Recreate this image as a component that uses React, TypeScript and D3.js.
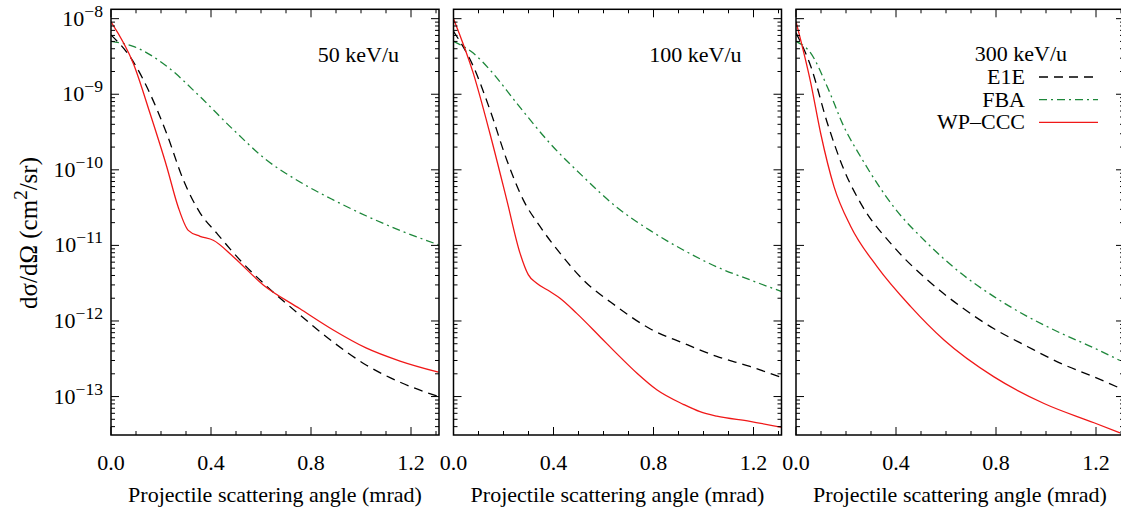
import React from 'react';
import * as d3 from 'd3';

// ---------- data ----------
const PANEL_LABELS = ['50 keV/u', '100 keV/u', '300 keV/u'];
const SERIES_NAMES = ['E1E', 'FBA', 'WP\u2013CCC'];
const X_TICKS = [0, 0.4, 0.8, 1.2];
const X_TICK_LABELS = ['0.0', '0.4', '0.8', '1.2'];
const Y_DECADES = [-8, -9, -10, -11, -12, -13];

// 50 keV/u
const e1e50X = [0, 0.089, 0.156, 0.223, 0.289, 0.356, 0.423, 0.529, 0.622, 0.756, 0.889, 1.022, 1.156, 1.31];
const e1e50Y = [6.1e-9, 2.7e-9, 1.02e-9, 3.0e-10, 7.4e-11, 2.7e-11, 1.45e-11, 5.75e-12, 2.9e-12, 1.2e-12, 5.25e-13, 2.6e-13, 1.55e-13, 1.0e-13];
const fba50X = [0, 0.089, 0.223, 0.356, 0.489, 0.622, 0.756, 0.889, 1.022, 1.156, 1.31];
const fba50Y = [5.0e-9, 4.3e-9, 2.35e-9, 9.3e-10, 3.4e-10, 1.35e-10, 6.9e-11, 4.0e-11, 2.45e-11, 1.58e-11, 1.02e-11];
const wp50X = [0, 0.089, 0.156, 0.223, 0.269, 0.309, 0.356, 0.409, 0.489, 0.609, 0.756, 0.889, 1.02, 1.156, 1.31];
const wp50Y = [9.1e-9, 2.57e-9, 5.6e-10, 1.1e-10, 3.2e-11, 1.58e-11, 1.32e-11, 1.17e-11, 7.1e-12, 3.0e-12, 1.45e-12, 7.6e-13, 4.4e-13, 2.95e-13, 2.1e-13];

// 100 keV/u
const e1e100X = [0, 0.079, 0.146, 0.213, 0.279, 0.346, 0.426, 0.519, 0.653, 0.786, 0.919, 1.053, 1.186, 1.313];
const e1e100Y = [6.8e-9, 2.35e-9, 6.2e-10, 1.35e-10, 4.0e-11, 1.78e-11, 7.9e-12, 3.5e-12, 1.55e-12, 7.9e-13, 5.1e-13, 3.4e-13, 2.5e-13, 1.78e-13];
const fba100X = [0, 0.079, 0.146, 0.253, 0.386, 0.519, 0.653, 0.786, 0.919, 1.053, 1.186, 1.313];
const fba100Y = [5.0e-9, 3.5e-9, 2.1e-9, 7.6e-10, 2.24e-10, 8.1e-11, 3.2e-11, 1.58e-11, 8.7e-12, 5.2e-12, 3.5e-12, 2.45e-12];
const wp100X = [0, 0.079, 0.146, 0.213, 0.266, 0.299, 0.333, 0.386, 0.426, 0.493, 0.586, 0.653, 0.733, 0.813, 0.919, 0.986, 1.053, 1.186, 1.313];
const wp100Y = [1.0e-8, 1.9e-9, 3.0e-10, 4.0e-11, 7.9e-12, 4.1e-12, 3.16e-12, 2.45e-12, 2.0e-12, 1.26e-12, 6.2e-13, 3.7e-13, 2.05e-13, 1.23e-13, 7.9e-14, 6.3e-14, 5.5e-14, 4.7e-14, 3.9e-14];

// 300 keV/u
const e1e300X = [0, 0.059, 0.125, 0.192, 0.259, 0.392, 0.525, 0.659, 0.792, 0.925, 1.059, 1.192, 1.296];
const e1e300Y = [6.5e-9, 2.35e-9, 4.2e-10, 1.0e-10, 3.6e-11, 9.5e-12, 3.5e-12, 1.55e-12, 7.9e-13, 4.6e-13, 2.75e-13, 1.82e-13, 1.29e-13];
const fba300X = [0, 0.059, 0.125, 0.192, 0.259, 0.392, 0.525, 0.659, 0.792, 0.925, 1.059, 1.192, 1.296];
const fba300Y = [5.0e-9, 3.5e-9, 1.26e-9, 3.7e-10, 1.48e-10, 3.2e-11, 1.07e-11, 4.3e-12, 2.1e-12, 1.15e-12, 6.9e-13, 4.4e-13, 3.0e-13];
const wp300X = [0, 0.059, 0.099, 0.152, 0.219, 0.325, 0.459, 0.592, 0.792, 0.992, 1.192, 1.296];
const wp300Y = [9.1e-9, 1.41e-9, 3.0e-10, 6.0e-11, 1.78e-11, 5.2e-12, 1.55e-12, 5.6e-13, 1.82e-13, 8.1e-14, 4.5e-14, 3.3e-14];

const PANELS = [
  { label: PANEL_LABELS[0], e1e: [e1e50X, e1e50Y], fba: [fba50X, fba50Y], wp: [wp50X, wp50Y] },
  { label: PANEL_LABELS[1], e1e: [e1e100X, e1e100Y], fba: [fba100X, fba100Y], wp: [wp100X, wp100Y] },
  { label: PANEL_LABELS[2], e1e: [e1e300X, e1e300Y], fba: [fba300X, fba300Y], wp: [wp300X, wp300Y] },
];

// ---------- layout / style ----------
const W = 1121;
const H = 509;
const PANEL_LEFTS = [111, 453.5, 796];
const PANEL_W = 328;
const TOP = 9.3;
const BOTTOM = 435;
const FONT = '"Liberation Serif", "DejaVu Serif", Times, serif';
const COLORS = { e1e: '#000000', fba: '#1d873a', wp: '#f01818' };
const DASH = { e1e: '9,6', fba: '8,4,2,4', wp: undefined as string | undefined };

const x = d3.scaleLinear().domain([0, 1.312]).range([0, PANEL_W]);
const y = d3.scaleLog().domain([3.1e-14, 1.33e-8]).range([BOTTOM, TOP]);

const minorY: number[] = [];
for (let d = -14; d <= -8; d++) {
  for (let m = 2; m <= 9; m++) {
    const v = m * Math.pow(10, d);
    if (v > 3.1e-14 && v < 1.33e-8) minorY.push(v);
  }
}
const minorX = d3.range(0, 14).map((i) => i / 10).filter((t) => t <= 1.312);

const lineGen = d3
  .line<[number, number]>()
  .x((d) => x(d[0]))
  .y((d) => y(d[1]))
  .curve(d3.curveMonotoneX);

function pathOf(s: number[][]) {
  const pts: [number, number][] = s[0].map((xv, i) => [xv, s[1][i]]);
  return lineGen(pts) || '';
}

function Panel({ idx }: { idx: number }) {
  const p = PANELS[idx];
  const left = PANEL_LEFTS[idx];
  const clipId = `clip${idx}`;
  return (
    <g transform={`translate(${left},0)`}>
      <defs>
        <clipPath id={clipId}>
          <rect x={0} y={TOP} width={PANEL_W} height={BOTTOM - TOP} />
        </clipPath>
      </defs>
      <g clipPath={`url(#${clipId})`} fill="none" strokeWidth={1.3}>
        <path d={pathOf(p.fba)} stroke={COLORS.fba} strokeDasharray={DASH.fba} />
        <path d={pathOf(p.e1e)} stroke={COLORS.e1e} strokeDasharray={DASH.e1e} />
        <path d={pathOf(p.wp)} stroke={COLORS.wp} />
      </g>
      {/* ticks */}
      <g stroke="#000" strokeWidth={1}>
        {minorX.map((t, i) => {
          const major = X_TICKS.some((m) => Math.abs(m - t) < 1e-9);
          const len = major ? 8 : 4;
          return (
            <g key={`xt${i}`}>
              <line x1={x(t)} x2={x(t)} y1={BOTTOM} y2={BOTTOM - len} />
              <line x1={x(t)} x2={x(t)} y1={TOP} y2={TOP + len} />
            </g>
          );
        })}
        {Y_DECADES.map((d) => (
          <g key={`yt${d}`}>
            <line x1={0} x2={8} y1={y(Math.pow(10, d))} y2={y(Math.pow(10, d))} />
            <line x1={PANEL_W} x2={PANEL_W - 8} y1={y(Math.pow(10, d))} y2={y(Math.pow(10, d))} />
          </g>
        ))}
        {minorY.map((v, i) => (
          <g key={`ym${i}`}>
            <line x1={0} x2={4} y1={y(v)} y2={y(v)} />
            <line x1={PANEL_W} x2={PANEL_W - 4} y1={y(v)} y2={y(v)} />
          </g>
        ))}
      </g>
      <rect x={0} y={TOP} width={PANEL_W} height={BOTTOM - TOP} fill="none" stroke="#000" strokeWidth={1.5} />
      {/* x tick labels */}
      {X_TICKS.map((t, i) => (
        <text key={`xl${i}`} x={x(t)} y={470} textAnchor="middle" fontSize={22} fontFamily={FONT}>
          {X_TICK_LABELS[i]}
        </text>
      ))}
      <text x={PANEL_W / 2} y={502} textAnchor="middle" fontSize={22} fontFamily={FONT}>
        Projectile scattering angle (mrad)
      </text>
      {idx < 2 ? (
        <text x={PANEL_W - 40} y={62} textAnchor="end" fontSize={22} fontFamily={FONT}>
          {p.label}
        </text>
      ) : (
        <g fontSize={22} fontFamily={FONT}>
          <text x={225} y={61} textAnchor="middle">{p.label}</text>
          {(['e1e', 'fba', 'wp'] as const).map((k, i) => (
            <g key={k}>
              <text x={229} y={84 + i * 22.7} textAnchor="end">{SERIES_NAMES[i]}</text>
              <line
                x1={243}
                x2={302}
                y1={77 + i * 22.7}
                y2={77 + i * 22.7}
                stroke={COLORS[k]}
                strokeWidth={1.3}
                strokeDasharray={DASH[k]}
              />
            </g>
          ))}
        </g>
      )}
    </g>
  );
}

export default function App() {
  return (
    <svg
      width={W}
      height={H}
      style={{ position: 'absolute', left: 0, top: 0, background: '#fff' }}
      xmlns="http://www.w3.org/2000/svg"
    >
      <rect x={0} y={0} width={W} height={H} fill="#fff" />
      {/* y tick labels */}
      {Y_DECADES.map((d) => (
        <text key={`yl${d}`} x={103} y={y(Math.pow(10, d)) + 7} textAnchor="end" fontSize={22} fontFamily={FONT}>
          10
          <tspan fontSize={17.6} dy={-9}>{`\u2212${-d}`}</tspan>
        </text>
      ))}
      <text
        transform={`translate(37,233) rotate(-90)`}
        textAnchor="middle"
        fontSize={25}
        fontFamily={FONT}
      >
        d{'\u03C3'}/d{'\u03A9'} (cm
        <tspan fontSize={19} dy={-10}>2</tspan>
        <tspan dy={10}>/sr)</tspan>
      </text>
      {PANELS.map((_, i) => (
        <Panel key={i} idx={i} />
      ))}
    </svg>
  );
}
